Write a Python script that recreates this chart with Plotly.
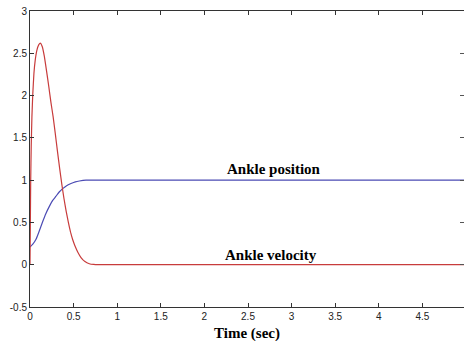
import plotly.graph_objects as go

# Ankle velocity (red)
vel_t = [0, 0.004, 0.008, 0.014, 0.022, 0.032, 0.045, 0.06, 0.08, 0.1, 0.119,
         0.14, 0.165, 0.19, 0.215, 0.24, 0.265, 0.29, 0.315, 0.34, 0.365, 0.39,
         0.415, 0.44, 0.465, 0.49, 0.515, 0.55, 0.585, 0.63, 0.68, 0.73, 0.78, 5.0]
vel = [0, 0.5, 1.0, 1.4, 1.75, 2.02, 2.26, 2.42, 2.54, 2.6, 2.62,
       2.58, 2.46, 2.29, 2.11, 1.92, 1.75, 1.55, 1.34, 1.14, 0.95, 0.78,
       0.63, 0.50, 0.385, 0.295, 0.225, 0.145, 0.085, 0.037, 0.012, 0.003, 0, 0]

# Ankle position (blue)
pos_t = [0, 0.03, 0.069, 0.1, 0.146, 0.18, 0.222, 0.26, 0.298, 0.335, 0.375,
         0.42, 0.47, 0.52, 0.566, 0.642, 5.0]
pos = [0.21, 0.24, 0.30, 0.38, 0.51, 0.60, 0.69, 0.76, 0.81, 0.86, 0.90,
       0.935, 0.96, 0.98, 0.99, 1.0, 1.0]

x_ticks = [0, 0.5, 1, 1.5, 2, 2.5, 3, 3.5, 4, 4.5]
x_tick_labels = ["0", "0.5", "1", "1.5", "2", "2.5", "3", "3.5", "4", "4.5"]
y_ticks = [-0.5, 0, 0.5, 1, 1.5, 2, 2.5, 3]
y_tick_labels = ["-0.5", "0", "0.5", "1", "1.5", "2", "2.5", "3"]

labels = ["Ankle position", "Ankle velocity"]
label_x = [2.795, 2.76]
label_y = [1.136, 0.118]

x_title = "Time (sec)"

fig = go.Figure()
fig.add_trace(go.Scatter(x=pos_t, y=pos, mode="lines",
                         line=dict(color="rgb(75,75,180)", width=1.2, shape="spline", smoothing=0.4),
                         showlegend=False, hoverinfo="skip"))
fig.add_trace(go.Scatter(x=vel_t, y=vel, mode="lines",
                         line=dict(color="rgb(200,60,60)", width=1.2, shape="spline", smoothing=0.3),
                         showlegend=False, hoverinfo="skip"))
# dummy trace for right-side tick axis
fig.add_trace(go.Scatter(x=[0], y=[0], yaxis="y2", mode="markers",
                         marker=dict(opacity=0), showlegend=False, hoverinfo="skip"))

for txt, lx, ly in zip(labels, label_x, label_y):
    fig.add_annotation(x=lx, y=ly, text="<b>" + txt + "</b>", showarrow=False,
                       font=dict(family="Liberation Serif", size=15, color="#000"),
                       xanchor="center", yanchor="middle")

plot_h = 341 - 11 - 34
fig.add_annotation(x=0.5, xref="paper", y=-(333 - (341 - 34)) / plot_h, yref="paper",
                   text="<b>" + x_title + "</b>", showarrow=False,
                   font=dict(family="Liberation Serif", size=15, color="#000"),
                   xanchor="center", yanchor="middle")

axis_font = dict(family="Liberation Sans", size=10, color="#222")
fig.update_layout(
    width=464, height=341,
    margin=dict(l=30, r=0, t=11, b=34, autoexpand=False),
    paper_bgcolor="white", plot_bgcolor="white",
    xaxis=dict(range=[0, 4.977], tickvals=x_ticks, ticktext=x_tick_labels,
               ticks="inside", ticklen=4, tickcolor="#333", showline=True,
               linecolor="#333", linewidth=1, mirror="ticks", showgrid=False,
               zeroline=False, tickfont=axis_font, automargin=False),
    yaxis=dict(range=[-0.5, 3], tickvals=y_ticks, ticktext=y_tick_labels,
               ticks="inside", ticklen=4, tickcolor="#333", showline=True,
               linecolor="#333", linewidth=1, showgrid=False, zeroline=False,
               tickfont=axis_font, automargin=False),
    yaxis2=dict(range=[-0.5, 3], overlaying="y", side="right", tickvals=y_ticks,
                ticks="inside", ticklen=4, tickcolor="#555", showticklabels=False,
                showline=False, showgrid=False, zeroline=False, automargin=False),
)

fig.write_html("out.html", config={"displayModeBar": False},
               post_script="document.body.style.margin='0';document.body.style.overflow='hidden';")
